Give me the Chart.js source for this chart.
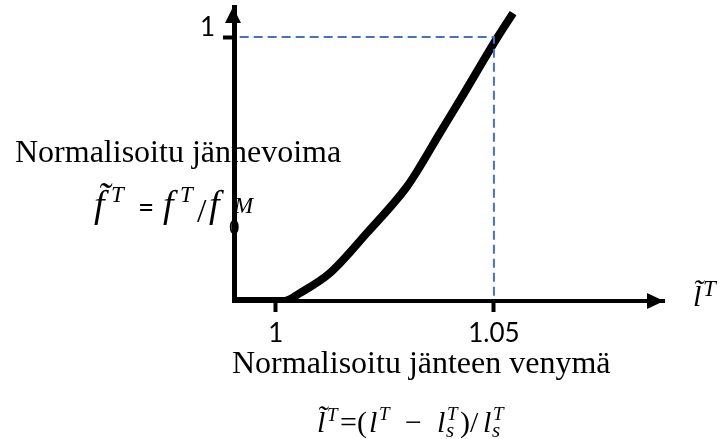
<!DOCTYPE html>
<html>
<head>
<meta charset="utf-8">
<script src="https://cdn.jsdelivr.net/npm/chart.js@4.4.1/dist/chart.umd.min.js"></script>
<style>
  html, body { margin: 0; padding: 0; background: #fff; }
</style>
</head>
<body>
<canvas id="chart" width="719" height="439"></canvas>
<script>
// tendon force-strain curve: normalised length vs normalised force
const strain = [0.9904, 1.002, 1.0055, 1.0124, 1.0209, 1.030, 1.033, 1.0376, 1.0422, 1.0507, 1.0544];
const force  = [0,      0,     0.03,   0.106,  0.258,  0.432, 0.508, 0.636,  0.761,  0.996,  1.091];

// guide lines to the reference point (1.05, 1)
const refStrain = [0.9917, 1.05, 1.05];
const refForce  = [1, 1, 0];

const xTicks = [1, 1.05];
const yTicks = [1];
const xRange = [0.9904, 1.089];
const yRange = [0, 1.114];

const serif = '"Liberation Serif", "Times New Roman", serif';
const bigF = 'italic 38px ' + serif;
const small = 'italic 23px ' + serif;
const upright = '30px ' + serif;
const lIt = 'italic 30px ' + serif;
const supT = 'italic 19px ' + serif;

// [text, x, baseline, font]
const labelPieces = [
  ['Normalisoitu jännevoima', 15, 162, '32px ' + serif],
  ['f\u0303', 94, 217, bigF],
  ['T', 111, 202, small],
  ['=', 138, 217, '28px Lato'],
  ['f', 163, 217, bigF],
  ['T', 180, 202, small],
  ['/', 197, 222, '34px ' + serif],
  ['f', 209, 217, bigF],
  ['0', 229, 234, '21px ' + serif],
  ['M', 234, 213, small],

  ['Normalisoitu jänteen venymä', 232, 373, '32px ' + serif],
  ['l\u0303', 317, 432, lIt],
  ['T', 327, 421, supT],
  ['=(', 340, 432, upright],
  ['l', 369, 432, lIt],
  ['T', 379, 420, supT],
  ['\u2212', 405, 432, upright],
  ['l', 437, 432, lIt],
  ['s', 446, 437, 'italic 21px ' + serif],
  ['T', 447, 420, supT],
  [')/', 460, 432, upright],
  ['l', 483, 432, lIt],
  ['s', 492, 437, 'italic 21px ' + serif],
  ['T', 493, 420, supT],

  ['l\u0303', 693, 306, lIt],
  ['T', 703, 296, small]
];

const textLayer = {
  id: 'textLayer',
  beforeDraw(chart) {
    const ctx = chart.ctx;
    ctx.save();
    ctx.fillStyle = '#000';
    ctx.textBaseline = 'alphabetic';
    ctx.textAlign = 'left';
    labelPieces.forEach(([t, x, y, font]) => {
      ctx.font = font;
      ctx.fillText(t, x, y);
    });
    ctx.restore();
  }
};

// arrow heads on the ends of both axes
const axisArrows = {
  id: 'axisArrows',
  afterDraw(chart) {
    const {ctx, chartArea} = chart;
    const x0 = chart.scales.x.left;
    const y0 = chart.scales.y.getPixelForValue(0);
    ctx.save();
    ctx.fillStyle = '#000';
    ctx.beginPath();
    ctx.moveTo(x0 - 1, chartArea.top);
    ctx.lineTo(x0 - 9, chartArea.top + 16);
    ctx.lineTo(x0 + 7, chartArea.top + 16);
    ctx.closePath();
    ctx.fill();
    ctx.beginPath();
    ctx.moveTo(chartArea.right, y0);
    ctx.lineTo(chartArea.right - 17, y0 - 8);
    ctx.lineTo(chartArea.right - 17, y0 + 8);
    ctx.closePath();
    ctx.fill();
    ctx.restore();
  }
};

new Chart(document.getElementById('chart'), {
  type: 'line',
  data: {
    datasets: [{
      data: refStrain.map((x, i) => ({x, y: refForce[i]})),
      borderColor: '#4472C4',
      borderWidth: 2,
      borderDash: [9, 5],
      pointRadius: 0,
      tension: 0
    }, {
      data: strain.map((x, i) => ({x, y: force[i]})),
      borderColor: '#000',
      borderWidth: 8,
      pointRadius: 0,
      cubicInterpolationMode: 'monotone'
    }]
  },
  options: {
    responsive: false,
    animation: false,
    layout: { padding: { top: 7, right: 55, left: 0, bottom: 0 } },
    plugins: { legend: { display: false }, tooltip: { enabled: false } },
    scales: {
      x: {
        type: 'linear',
        min: xRange[0],
        max: xRange[1],
        afterBuildTicks: s => { s.ticks = xTicks.map(v => ({value: v})); },
        afterFit: s => { s.height = 138; s.paddingLeft = 0; s.paddingRight = 0; },
        grid: { drawOnChartArea: false, drawTicks: true, tickLength: 11, tickWidth: 4, tickColor: '#000' },
        border: { display: true, color: '#000', width: 4 },
        ticks: {
          color: '#000',
          padding: 6,
          maxRotation: 0,
          font: { family: 'Lato', size: 26 },
          callback: v => String(v)
        }
      },
      y: {
        type: 'linear',
        min: yRange[0],
        max: yRange[1],
        afterBuildTicks: s => { s.ticks = yTicks.map(v => ({value: v})); },
        afterFit: s => { s.width = 234; s.paddingTop = 0; s.paddingBottom = 0; },
        grid: { drawOnChartArea: false, drawTicks: true, tickLength: 11, tickWidth: 4, tickColor: '#000' },
        border: { display: true, color: '#000', width: 5 },
        ticks: {
          color: '#000',
          padding: 8,
          labelOffset: -9,
          font: { family: 'Lato', size: 26 },
          callback: v => String(v)
        }
      }
    }
  },
  plugins: [textLayer, axisArrows]
});
</script>
</body>
</html>
